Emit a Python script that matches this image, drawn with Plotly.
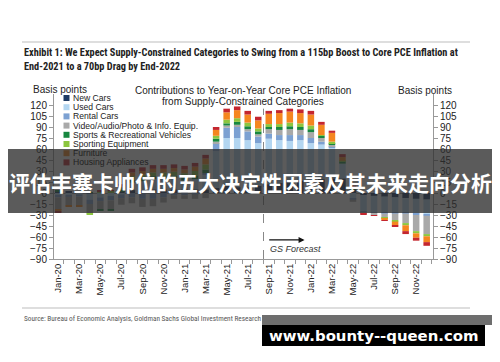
import plotly.graph_objects as go

months = ["Jan-20","Feb-20","Mar-20","Apr-20","May-20","Jun-20","Jul-20","Aug-20","Sep-20","Oct-20","Nov-20","Dec-20",
          "Jan-21","Feb-21","Mar-21","Apr-21","May-21","Jun-21","Jul-21","Aug-21","Sep-21","Oct-21","Nov-21","Dec-21",
          "Jan-22","Feb-22","Mar-22","Apr-22","May-22","Jun-22","Jul-22","Aug-22","Sep-22","Oct-22","Nov-22","Dec-22"]

new_cars    = [2,2,1,-1,0,0,2, 4,4,5,5,5,5,5,5, 7,10,8,8,10,12,14,16,17,18,19,20,20, 5,-3,-4,-5,-6,-7,-8,-9]
used_cars   = [-4,-3,-2,-8,-6,-4,-2, 10,12,14,14,15,12,14,20, 50,65,67,64,58,62,58,55,55,50,47,42,20, -8,-22,-22,-22,-21,-20,-20,-20]
rental_cars = [-2,-2,-3,-6,-5,-6,-5, -6,-8,-8,-6,-3,-3,-2,2, 11,14,15,12,9,7,7,8,7,7,4,2,0, -1,-1,-1,-1,-1,-1,-2,-2]
video_equip = [-17,-12,-12,-13,-11,-12,-9, -8,-11,-10,-7,-5,-5,-6,-7, 2,3,3,3,3,6,7,8,7,8,5,2,0, -3,-2,-3,-6,-9,-13,-22,-25]
sports_rv   = [1,0,0,1,-2,-2,2, 4,4,4,4,4,4,5,5, 4,3,4,4,4,3,4,4,4,4,3,2,3, 1,0,0,0,0,0,0,0]
sporting_eq = [0,0,0,-2,2,3,4, 5,5,5,5,5,6,6,7, 4,5,5,5,4,4,4,5,5,5,1,2,1, 0,0,0,-1,-2,-3,-3,-3]
furniture   = [-2,-2,-2,0,0,0,2, 5,5,5,5,5,5,6,8, 8,10,11,11,11,14,15,15,14,15,14,12,5, 2,0,0,-2,-5,-8,-6,-8]
housing_app = [-2,0,1,0,1,1,2, 5,5,5,5,5,5,5,5, 4,5,5,5,5,4,4,4,5,5,4,3,4, 2,-1,-1,-1,-2,-4,-4,-5]

series_names = ["New Cars","Used Cars","Rental Cars","Video/Audio/Photo & Info. Equip.",
                "Sports & Recreational Vehicles","Sporting Equipment","Furniture","Housing Appliances"]
series_values = [new_cars, used_cars, rental_cars, video_equip, sports_rv, sporting_eq, furniture, housing_app]
colors = ["#1d3a63","#b3d6f1","#7ca1d2","#a9a9a9","#17873f","#8cc63f","#f5861f","#c4262e"]

y_ticks = list(range(-90, 121, 15))
forecast_start = 19.5

# page has an 8px body margin: figure is 492x354 placed at (8,8)
W, H = 492, 354
L, T = 46, 86
PW, PH = 379, 165
R, B = W - L - PW, H - T - PH
def px(x): return (x - 8 - L) / PW
def py(y): return (H - B - (y - 8)) / PH

x_idx = list(range(len(months)))
fig = go.Figure()
for name, vals, col in zip(series_names, series_values, colors):
    fig.add_trace(go.Bar(x=x_idx, y=vals, name=name, marker=dict(color=col, line=dict(width=0)),
                         width=0.62, showlegend=False))
fig.add_trace(go.Scatter(x=[0], y=[0], yaxis="y2", mode="markers", marker=dict(opacity=0),
                         showlegend=False, hoverinfo="skip"))

axfont = dict(family="Liberation Sans, Arial, sans-serif", size=10, color="#222")
fig.update_layout(
    width=W, height=H, margin=dict(l=L, r=R, t=T, b=B),
    paper_bgcolor="white", plot_bgcolor="white", barmode="relative",
    xaxis=dict(range=[-0.4, 35.6], tickmode="array", tickvals=x_idx[::2], ticktext=months[::2],
               tickangle=-90, tickfont=dict(family="Liberation Sans, Arial, sans-serif", size=9.5, color="#222"),
               ticks="", showline=True, linecolor="#999", linewidth=1, showgrid=False, zeroline=False,
               minor=dict(ticks="outside", tick0=-0.5, dtick=1, ticklen=4, tickcolor="#999", showgrid=False)),
    yaxis=dict(range=[-90, 135], tickmode="array", tickvals=y_ticks, tickfont=axfont, ticks="outside",
               ticklen=4, tickcolor="#999", showline=True, linecolor="#999", showgrid=False,
               zeroline=True, zerolinecolor="#999", zerolinewidth=1),
    yaxis2=dict(range=[-90, 135], overlaying="y", side="right", tickmode="array", tickvals=y_ticks,
                tickfont=axfont, ticks="outside", ticklen=4, tickcolor="#999", showline=True,
                linecolor="#999", showgrid=False, zeroline=False),
)

fig.add_shape(type="line", xref="x", yref="y", x0=forecast_start, x1=forecast_start, y0=-90, y1=115,
              line=dict(color="#888", width=1, dash="dash"))
fig.add_annotation(xref="x", yref="y", x=23.4, y=-64, ax=19.9, ay=-64, axref="x", ayref="y",
                   showarrow=True, arrowhead=2, arrowsize=1, arrowwidth=1.2, arrowcolor="#111", text="")
fig.add_annotation(xref="x", yref="y", x=19.9, y=-76, text="<i>GS Forecast</i>", showarrow=False,
                   xanchor="left", font=dict(family="Liberation Sans, Arial", size=9, color="#333"))

ann = []
def text(x, y, s, size, color="#222", family="Liberation Sans, Arial, sans-serif", xanchor="left", bold=False):
    if bold:
        s = "<b>" + s + "</b>"
    ann.append(dict(xref="paper", yref="paper", x=px(x), y=py(y), text=s, showarrow=False,
                    xanchor=xanchor, yanchor="middle", font=dict(family=family, size=size, color=color)))

narrow = "Liberation Sans Narrow, Roboto Condensed, Liberation Sans, Arial, sans-serif"
text(22, 53, "Exhibit 1: We Expect Supply-Constrained Categories to Swing from a 115bp Boost to Core PCE Inflation at", 10.3, "#222", narrow, bold=True)
text(22, 66, "End-2021 to a 70bp Drag by End-2022", 10.3, "#222", narrow, bold=True)
text(60, 89, "Basis points", 10, xanchor="center")
text(425, 90, "Basis points", 10, xanchor="center")
text(243, 90, "Contributions to Year-on-Year Core PCE Inflation", 10, xanchor="center")
text(243, 101, "from Supply-Constrained Categories", 10, xanchor="center")
text(22, 318, "Source: Bureau of Economic Analysis, Goldman Sachs Global Investment Research", 7.3, "#555", narrow)

leg_y0, leg_dy = 98, 9.2
for k, (name, col) in enumerate(zip(series_names, colors)):
    yy = leg_y0 + k * leg_dy
    fig.add_shape(type="rect", xref="paper", yref="paper", x0=px(63.5), x1=px(69.5), y0=py(yy + 3), y1=py(yy - 3),
                  fillcolor=col, line=dict(width=0))
    text(70.5, yy, name, 8.6)

for yy in (42, 308):
    fig.add_shape(type="line", xref="paper", yref="paper", x0=px(22), x1=px(470), y0=py(yy), y1=py(yy),
                  line=dict(color="#bdbdbd", width=1))

# overlay banner
fig.add_shape(type="rect", xref="paper", yref="paper", x0=px(8), x1=px(492), y0=py(213), y1=py(149),
              fillcolor="rgba(45,45,45,0.78)", line=dict(width=0), layer="above")
text(250, 182, "评估丰塞卡帅位的五大决定性因素及其未来走向分析", 21, "white",
     "Noto Sans CJK SC, sans-serif", xanchor="center", bold=True)

# watermark
fig.add_shape(type="rect", xref="paper", yref="paper", x0=px(262), x1=px(500), y0=py(325), y1=py(315),
              fillcolor="#6e6e6e", line=dict(width=0), layer="above")
fig.add_shape(type="rect", xref="paper", yref="paper", x0=px(262), x1=px(485), y0=py(346), y1=py(325),
              fillcolor="#000000", line=dict(width=0), layer="above")
text(374, 335.5, "www.bounty--queen.com", 14.9, "white", "DejaVu Sans, sans-serif", xanchor="center", bold=True)

fig.update_layout(annotations=list(fig.layout.annotations) + ann)
fig.write_html("out.html")
